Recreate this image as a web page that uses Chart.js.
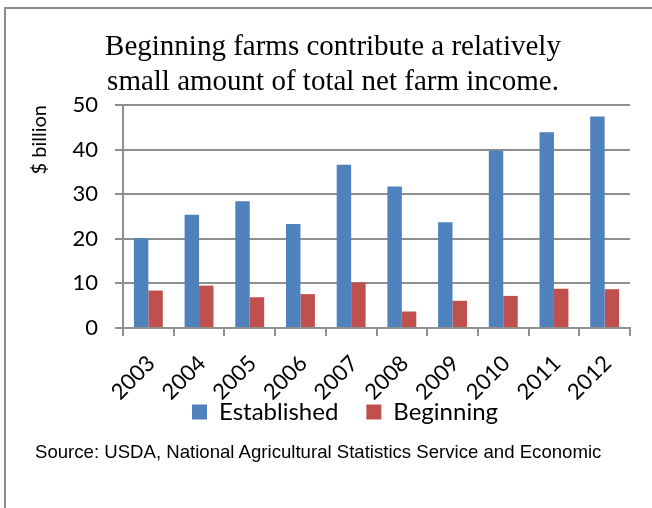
<!DOCTYPE html>
<html>
<head>
<meta charset="utf-8">
<script src="https://cdn.jsdelivr.net/npm/chart.js@4/dist/chart.umd.min.js"></script>
<style>
    html, body { margin: 0; padding: 0; background: #fff; }
    #wrap { position: relative; width: 652px; height: 508px; overflow: hidden; }
    #frame { position: absolute; left: 4px; top: 7px; width: 700px; height: 600px;
             border-top: 2px solid #8c8c8c; border-left: 2px solid #8c8c8c; }
    #chartBox { position: absolute; left: 0; top: 0; width: 652px; height: 462px; }
    #source { position: absolute; left: 35px; top: 441px; font-family: "Liberation Sans", Arial, sans-serif;
              font-size: 18.6px; color: #000; white-space: nowrap; }
</style>
</head>
<body>
<div id="wrap">
    <div id="frame"></div>
    <div id="chartBox"><canvas id="farmChart"></canvas></div>
    <div id="source">Source: USDA, National Agricultural Statistics Service and Economic</div>
</div>
<script>
    // Chart data
    const years = ['2003', '2004', '2005', '2006', '2007', '2008', '2009', '2010', '2011', '2012'];
    const established = [20.1, 25.4, 28.4, 23.3, 36.6, 31.7, 23.7, 39.8, 43.9, 47.4];
    const beginning = [8.4, 9.5, 6.9, 7.6, 10.2, 3.7, 6.1, 7.2, 8.8, 8.7];
    const yTicks = [0, 10, 20, 30, 40, 50];

    const gridColor = '#8f8f8f';
    const labelFont = { family: 'Lato, sans-serif', size: 22, lineHeight: 1 };

    // pull the legend up (and a bit right) so it sits right under the rotated year labels
    const legendNudge = {
        id: 'legendNudge',
        afterLayout: function(chart) {
            chart.legend.top -= 28;
            chart.legend.bottom -= 28;
            chart.legend.left += 12;
            chart.legend.right += 12;
        }
    };

    document.addEventListener('DOMContentLoaded', function() {
        const ctx = document.getElementById('farmChart').getContext('2d');
        new Chart(ctx, {
            type: 'bar',
            data: {
                labels: years,
                datasets: [{
                    label: 'Established',
                    data: established,
                    backgroundColor: '#4f81bd',
                    borderWidth: 0,
                    barPercentage: 1,
                    categoryPercentage: 0.57
                }, {
                    label: 'Beginning',
                    data: beginning,
                    backgroundColor: '#c0504d',
                    borderWidth: 0,
                    barPercentage: 1,
                    categoryPercentage: 0.57
                }]
            },
            options: {
                responsive: true,
                maintainAspectRatio: false,
                animation: false,
                layout: {
                    padding: { left: 36, right: 22, top: 0, bottom: 0 }
                },
                plugins: {
                    title: {
                        display: true,
                        text: ['Beginning farms contribute a relatively', 'small amount of total net farm income.'],
                        color: '#000',
                        font: { family: '"Liberation Serif", "Times New Roman", serif', size: 29, weight: 'normal', lineHeight: 1.2 },
                        padding: { top: 30, bottom: 5.4 }
                    },
                    legend: {
                        position: 'bottom',
                        labels: {
                            color: '#000',
                            font: { family: 'Lato, sans-serif', size: 24 },
                            boxWidth: 15,
                            boxHeight: 15,
                            padding: 28
                        }
                    },
                    tooltip: { enabled: false }
                },
                scales: {
                    x: {
                        afterFit: function(scale) {
                            scale.height = 72;
                        },
                        grid: {
                            drawOnChartArea: false,
                            color: gridColor,
                            lineWidth: 2,
                            tickLength: 8
                        },
                        border: { color: gridColor, width: 2 },
                        ticks: {
                            color: '#000',
                            font: labelFont,
                            minRotation: 45,
                            maxRotation: 45,
                            padding: 16,
                            labelOffset: 3
                        }
                    },
                    y: {
                        min: 0,
                        max: 50,
                        afterBuildTicks: function(scale) {
                            scale.ticks = yTicks.map(v => ({ value: v }));
                        },
                        afterFit: function(scale) {
                            scale.width = 87;
                        },
                        grid: {
                            color: gridColor,
                            lineWidth: 2,
                            tickLength: 8
                        },
                        border: { color: gridColor, width: 2 },
                        ticks: {
                            color: '#000',
                            font: labelFont,
                            padding: 17
                        },
                        title: {
                            display: true,
                            text: '$ billion',
                            align: 'end',
                            color: '#000',
                            font: { family: 'Lato, sans-serif', size: 20 },
                            padding: { top: -8, bottom: 0 }
                        }
                    }
                }
            },
            plugins: [legendNudge]
        });
    });
</script>
</body>
</html>
